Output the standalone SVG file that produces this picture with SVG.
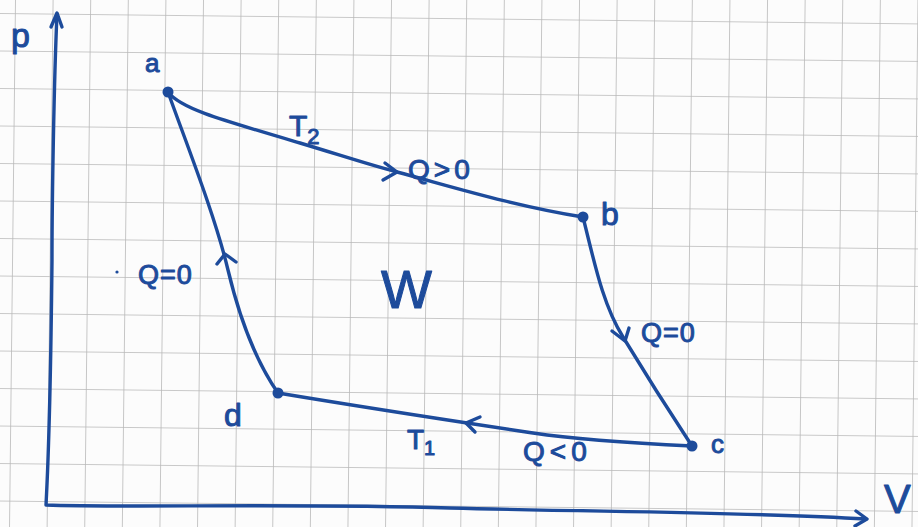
<svg xmlns="http://www.w3.org/2000/svg" width="918" height="527" viewBox="0 0 918 527">
  <defs>
    <pattern id="grid" x="15" y="13" width="37.6" height="37.5" patternUnits="userSpaceOnUse" patternTransform="rotate(0.65)">
      <path d="M0,0 V37.5 M0,0 H37.6" fill="none" stroke="#b8b8b8" stroke-width="1.6"/>
    </pattern>
    <style>
      .ink{fill:none;stroke:#1d4b9b;stroke-width:3.4;stroke-linecap:round;stroke-linejoin:round}
      .lbl{fill:#1d4b9b;stroke:#1d4b9b;stroke-width:1;stroke-linejoin:round;font-family:"Liberation Sans","DejaVu Sans",sans-serif}
      .dot{fill:#1d4b9b}
    </style>
  </defs>
  <rect x="0" y="0" width="918" height="527" fill="#fcfcfc"/>
  <rect x="-20" y="-20" width="960" height="570" fill="url(#grid)"/>

  <g id="axes">
    <path class="ink" d="M57,14 C54,80 52,200 52,260 C51,360 50,430 46,505 C120,508 300,503 450,508 C600,512 750,512 866,519"/>
    <path class="ink" d="M51,27 L57,13 L62,27"/>
    <path class="ink" d="M856,511 L867,519 L855,526"/>
    <text class="lbl" x="11" y="47" font-size="34">p</text>
    <text class="lbl" x="884" y="513" font-size="40">V</text>
  </g>

  <g id="connectors">
    <path id="ab" class="ink" d="M168,92 C180,108 215,118 300,143 C340,155 370,165 397,172 C450,186 510,205 583,217"/>
    <path class="ink" d="M385,163 L397,172 L383,180"/>
    <path id="bc" class="ink" d="M583,217 C595,265 603,305 623,337 C640,365 665,405 692,446"/>
    <path class="ink" d="M612,331 L625,341 L629,328"/>
    <path id="cd" class="ink" d="M692,446 C630,443 580,440 533,433 C480,425 380,410 278,393"/>
    <path class="ink" d="M480,417 L466,423 L475,432"/>
    <path id="da" class="ink" d="M278,393 C255,360 240,320 228,270 C215,215 185,140 168,92"/>
    <path class="ink" d="M217,264 L225,254 L236,262"/>
  </g>

  <g id="node-a">
    <circle class="dot" cx="168" cy="92" r="5.5"/>
    <text class="lbl" x="145" y="72" font-size="26">a</text>
  </g>
  <g id="node-b">
    <circle class="dot" cx="583" cy="217" r="5.5"/>
    <text class="lbl" x="601" y="225" font-size="32">b</text>
  </g>
  <g id="node-c">
    <circle class="dot" cx="692" cy="446" r="5.5"/>
    <text class="lbl" x="711" y="453" font-size="26">c</text>
  </g>
  <g id="node-d">
    <circle class="dot" cx="278" cy="393" r="5.5"/>
    <text class="lbl" x="224" y="426" font-size="32">d</text>
  </g>

  <g id="labels">
    <text class="lbl" x="289" y="136" font-size="30">T<tspan font-size="22" dy="8">2</tspan></text>
    <text class="lbl" x="408" y="179" font-size="28" letter-spacing="4">Q&gt;0</text>
    <text class="lbl" x="138" y="284" font-size="27" letter-spacing="1">Q=0</text>
    <text class="lbl" x="641" y="342" font-size="27" letter-spacing="1">Q=0</text>
    <text class="lbl" x="381" y="308" font-size="54">W</text>
    <text class="lbl" x="407" y="449" font-size="28">T<tspan font-size="20" dy="6">1</tspan></text>
    <text class="lbl" x="523" y="461" font-size="28" letter-spacing="5">Q&lt;0</text>
    <circle class="dot" cx="117" cy="272" r="1.6"/>
  </g>
</svg>
